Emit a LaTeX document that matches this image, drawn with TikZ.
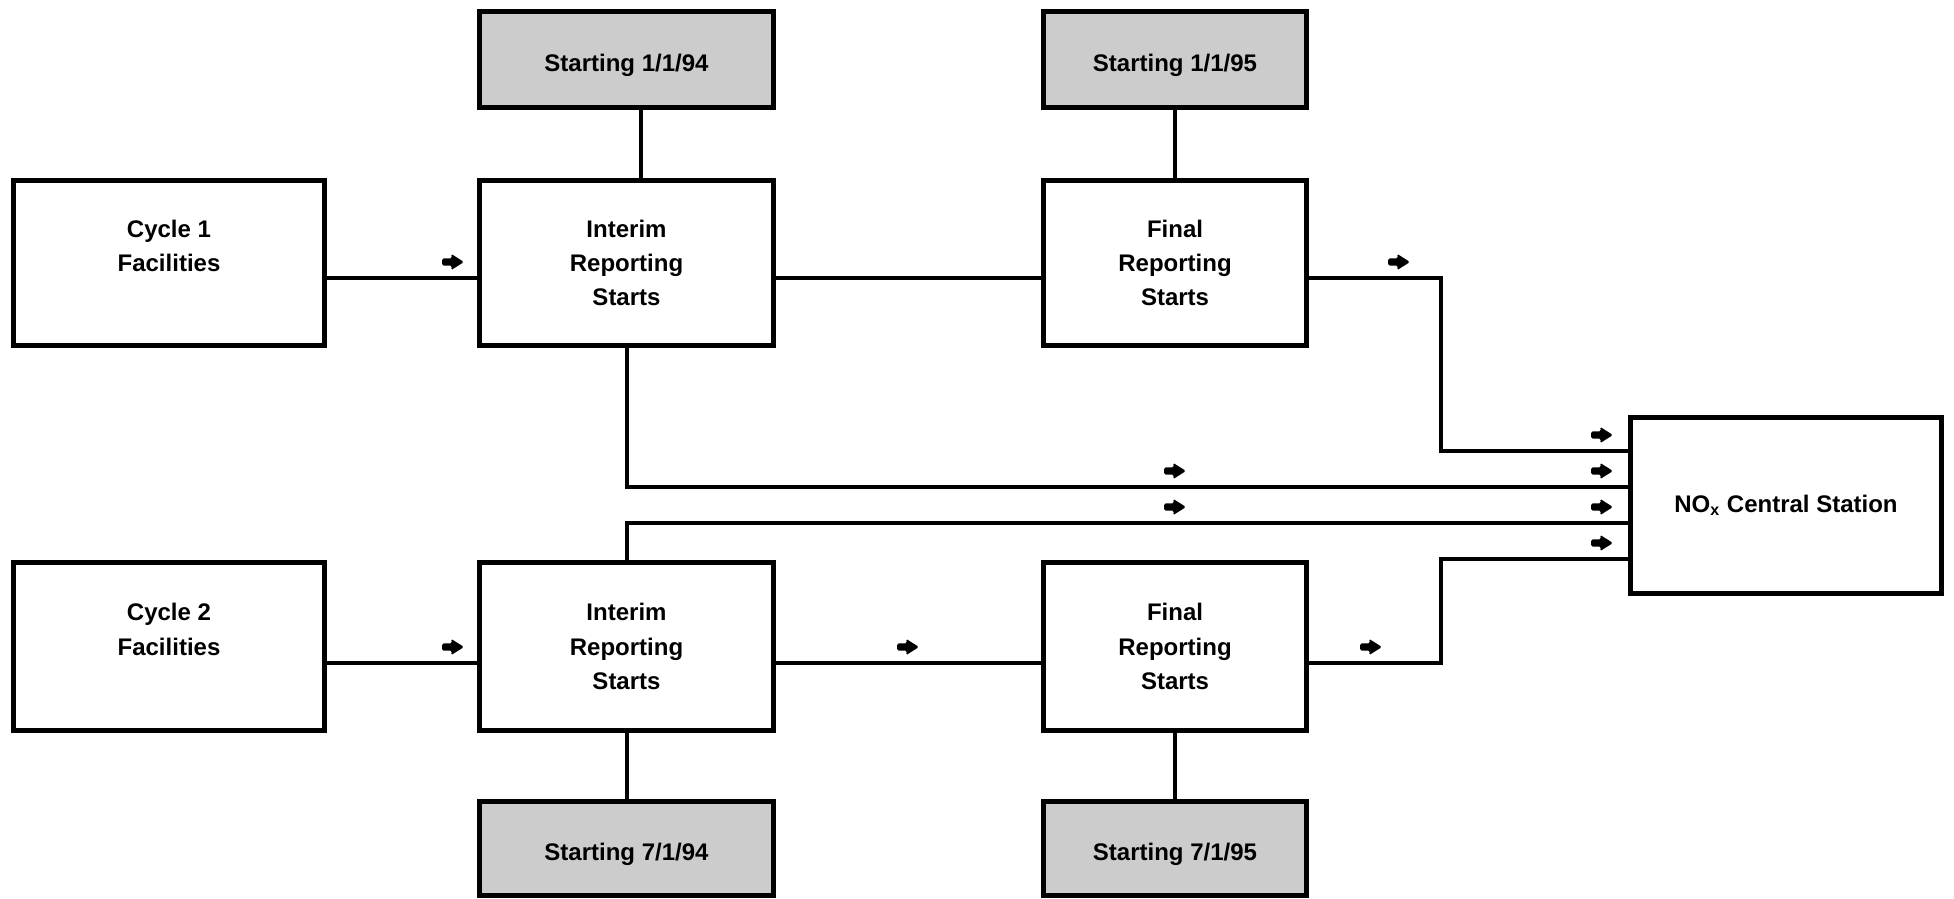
\documentclass[tikz,border=0pt]{standalone}
\usepackage{fontspec}
\setmainfont{Liberation Sans}
\definecolor{boxgray}{RGB}{204,204,204}
\begin{document}
\begin{tikzpicture}[x=0.5pt,y=-0.5pt,
  box/.style={draw=black, line width=2.5pt, fill=white, inner sep=0pt,
    align=center, font=\bfseries\fontsize{12pt}{17.2pt}\selectfont},
  datebox/.style={box, fill=boxgray, text height=12.1pt, text depth=0pt},
  conn/.style={line width=2pt},
  arrowmark/.pic={\fill[rounded corners=0.8pt] (-11,-3.6) -- (-1,-3.6) -- (-2,-8.2) -- (11,0) -- (-2,8.2) -- (-1,3.6) -- (-11,3.6) -- cycle;}]
\useasboundingbox (0,0) rectangle (1954,899);
% top dates
\node[datebox, minimum width=147pt, minimum height=48pt] (s1) at (626.5,59.5) {Starting 1/1/94};
\node[datebox, minimum width=131.5pt, minimum height=48pt] (s2) at (1175,59.5) {Starting 1/1/95};
% row 1
\node[box, minimum width=155.5pt, minimum height=82.5pt] (c1) at (169,263) {Cycle 1\\Facilities\\~};
\node[box, minimum width=147pt, minimum height=82.5pt] (i1) at (626.5,263) {Interim\\Reporting\\Starts};
\node[box, minimum width=131.5pt, minimum height=82.5pt] (f1) at (1175,263) {Final\\Reporting\\Starts};
% row 2
\node[box, minimum width=155.5pt, minimum height=84pt] (c2) at (169,646.5) {Cycle 2\\Facilities\\~};
\node[box, minimum width=147pt, minimum height=84pt] (i2) at (626.5,646.5) {Interim\\Reporting\\Starts};
\node[box, minimum width=131.5pt, minimum height=84pt] (f2) at (1175,646.5) {Final\\Reporting\\Starts};
% bottom dates
\node[datebox, minimum width=147pt, minimum height=47pt] (s3) at (626.5,848.5) {Starting 7/1/94};
\node[datebox, minimum width=131.5pt, minimum height=47pt] (s4) at (1175,848.5) {Starting 7/1/95};
% central station
\node[box, minimum width=155.5pt, minimum height=88pt] (nox) at (1786,505.5) {NO\textsubscript{x} Central Station};
% entry points on the station
\coordinate (n1) at ([yshift=27.25pt]nox.west);
\coordinate (n2) at ([yshift=9.25pt]nox.west);
\coordinate (n3) at ([yshift=-8.75pt]nox.west);
\coordinate (n4) at ([yshift=-26.75pt]nox.west);
% connectors
\draw[conn] ([xshift=7pt]s1.south) -- ([xshift=7pt]i1.north);
\draw[conn] (s2.south) -- (f1.north);
\draw[conn] (i2.south) -- (s3.north);
\draw[conn] (f2.south) -- (s4.north);
\draw[conn] ([yshift=-7.5pt]c1.east) -- ([yshift=-7.5pt]i1.west);
\draw[conn] ([yshift=-7.5pt]i1.east) -- ([yshift=-7.5pt]f1.west);
\draw[conn] ([yshift=-7.5pt]f1.east) -- ++(66pt,0) |- (n1);
\draw[conn] (i1.south) |- (n2);
\draw[conn] (i2.north) |- (n3);
\draw[conn] ([yshift=-8.25pt]c2.east) -- ([yshift=-8.25pt]i2.west);
\draw[conn] ([yshift=-8.25pt]i2.east) -- ([yshift=-8.25pt]f2.west);
\draw[conn] ([yshift=-8.25pt]f2.east) -- ++(66pt,0) |- (n4);
% arrow marks
\pic at (453,262) {arrowmark};
\pic at (1399,262) {arrowmark};
\pic at (1602,435) {arrowmark};
\pic at (1175,471) {arrowmark};
\pic at (1602,471) {arrowmark};
\pic at (1175,507) {arrowmark};
\pic at (1602,507) {arrowmark};
\pic at (1602,543) {arrowmark};
\pic at (453,647) {arrowmark};
\pic at (908,647) {arrowmark};
\pic at (1371,647) {arrowmark};
\end{tikzpicture}
\end{document}
